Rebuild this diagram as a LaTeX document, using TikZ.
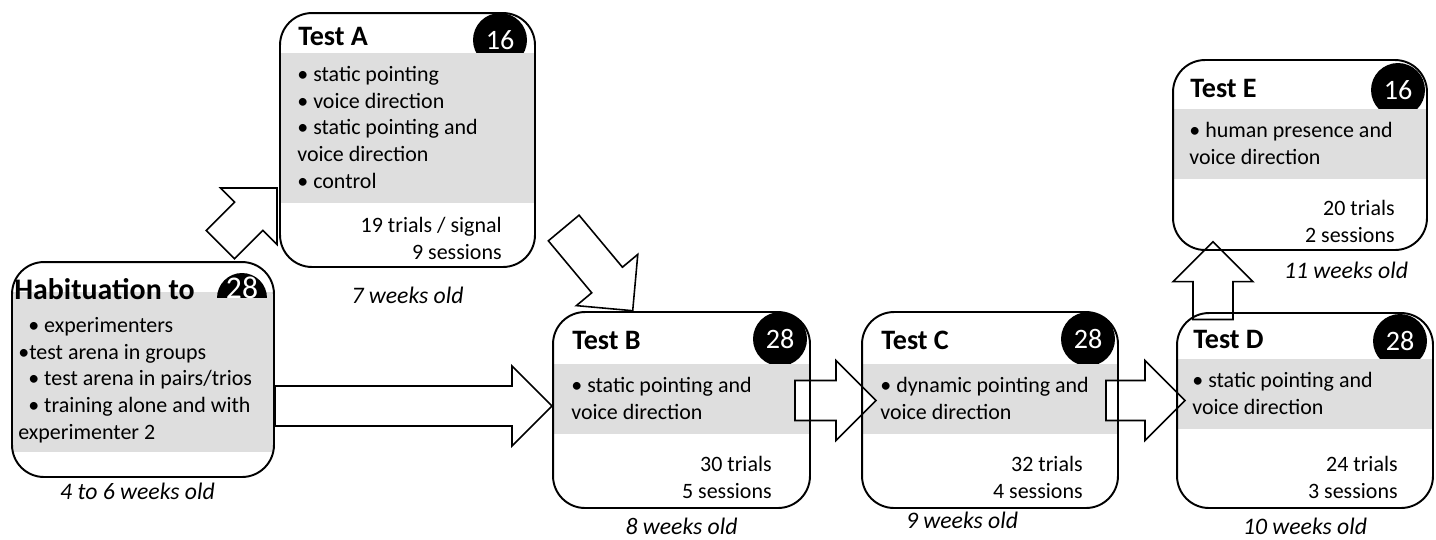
\documentclass[tikz,border=0pt]{standalone}
\usepackage{fontspec}
\setmainfont{Carlito}
\usetikzlibrary{calc}

\definecolor{bandgray}{RGB}{222,222,222}

% block arrow from #1 (tail) to #2 (tip)
\newcommand{\blockarrow}[2]{%
  \path (#2) coordinate (ba-tip) ($(#2)!0.8cm!(#1)$) coordinate (ba-base);
  \draw[blockarrow] ($(#1)!0.4cm!90:(#2)$) -- ($(ba-base)!0.4cm!90:(ba-tip)$)
    -- ($(ba-base)!0.8cm!90:(ba-tip)$) -- (ba-tip)
    -- ($(ba-base)!0.8cm!-90:(ba-tip)$) -- ($(ba-base)!0.4cm!-90:(ba-tip)$)
    -- ($(#1)!0.4cm!-90:(#2)$) -- cycle;}

\begin{document}
\begin{tikzpicture}[x=0.02cm, y=-0.02cm,
    stage/.style={rectangle, inner sep=0pt, outer sep=0pt},
    frame/.style={draw=black, line width=1.1pt, rounded corners=0.64cm},
    band/.style={fill=bandgray},
    count/.style={circle, fill=black, text=white, minimum size=1.08cm, inner sep=0pt,
      font=\fontsize{16}{16}\selectfont},
    title/.style={anchor=base west, inner sep=0pt, font=\bfseries\fontsize{16}{19}\selectfont},
    items/.style={anchor=base west, inner sep=0pt, align=left,
      font=\fontsize{12.5}{15.1}\selectfont},
    tally/.style={anchor=base east, inner sep=0pt, align=right,
      font=\fontsize{12.5}{15.1}\selectfont},
    age/.style={anchor=base, inner sep=0pt, font=\itshape\fontsize{13.5}{16}\selectfont},
    blockarrow/.style={draw=black, fill=white, line width=0.9pt, line join=miter}]
  \useasboundingbox (0,0) rectangle (1436,539);

  % Habituation (text nodes sit on their last baseline)
  \node[stage, minimum width=5.24cm, minimum height=4.30cm] (hab) at (143,369.5) {};
  \begin{scope}
    \clip[rounded corners=0.64cm] (hab.north west) rectangle (hab.south east);
    \fill[band] (12,292) rectangle (274,452);
    \clip (12,262) rectangle (274,297);
    \node[count, minimum size=1cm] (hab-n) at (242,298) {};
  \end{scope}
  \node[inner sep=0pt, text=white, font=\fontsize{18}{18}\selectfont] (hab-num) at (242,288) {28};
  \node[title, font=\bfseries\fontsize{17}{19}\selectfont] (hab-title) at (14,299) {Habituation to};
  \node[items] (hab-items) at (18,439) {\hspace*{0.2cm}• experimenters\\•test arena in groups\\
    \hspace*{0.2cm}• test arena in pairs/trios\\\hspace*{0.2cm}• training alone and with\\experimenter 2};
  \node[age] (hab-age) at (137.5,499) {4 to 6 weeks old};

  % Test A
  \node[stage, minimum width=5.10cm, minimum height=5.08cm] (testA) at (407.5,140) {};
  \begin{scope}
    \clip[rounded corners=0.64cm] (testA.north west) rectangle (testA.south east);
    \node[count] (testA-n) at (500,40) {16};
    \fill[band] (280,53) rectangle (535,203);
  \end{scope}
  \node[title] (testA-title) at (298,45) {Test A};
  \node[items] (testA-items) at (297,188) {• static pointing\\• voice direction\\
    • static pointing and\\voice direction\\• control};
  \node[tally] (testA-tally) at (502,259) {19 trials / signal\\9 sessions};
  \node[age] (testA-age) at (407.5,303) {7 weeks old};

  % Test B
  \node[stage, minimum width=5.14cm, minimum height=3.92cm] (testB) at (681.5,410) {};
  \begin{scope}
    \clip[rounded corners=0.64cm] (testB.north west) rectangle (testB.south east);
    \node[count] (testB-n) at (780,339) {28};
    \fill[band] (553,364) rectangle (810,434);
  \end{scope}
  \node[title] (testB-title) at (572,349) {Test B};
  \node[items] (testB-items) at (571,419.5) {• static pointing and\\voice direction};
  \node[tally] (testB-tally) at (772,498) {30 trials\\5 sessions};
  \node[age] (testB-age) at (681.5,534) {8 weeks old};

  % Test C
  \node[stage, minimum width=5.12cm, minimum height=3.92cm] (testC) at (990,410) {};
  \begin{scope}
    \clip[rounded corners=0.64cm] (testC.north west) rectangle (testC.south east);
    \node[count] (testC-n) at (1088,339) {28};
    \fill[band] (862,364) rectangle (1118,434);
  \end{scope}
  \node[title] (testC-title) at (881,349) {Test C};
  \node[items] (testC-items) at (880,419.5) {• dynamic pointing and\\voice direction};
  \node[tally] (testC-tally) at (1083,498) {32 trials\\4 sessions};
  \node[age] (testC-age) at (962,528) {9 weeks old};

  % Test D
  \node[stage, minimum width=5.12cm, minimum height=3.90cm] (testD) at (1305,410.5) {};
  \begin{scope}
    \clip[rounded corners=0.64cm] (testD.north west) rectangle (testD.south east);
    \node[count] (testD-n) at (1400,341) {28};
    \fill[band] (1177,359) rectangle (1433,429);
  \end{scope}
  \node[title] (testD-title) at (1193,348) {Test D};
  \node[items] (testD-items) at (1192,414.5) {• static pointing and\\voice direction};
  \node[tally] (testD-tally) at (1398,498) {24 trials\\3 sessions};
  \node[age] (testD-age) at (1305,534) {10 weeks old};

  % Test E
  \node[stage, minimum width=5.08cm, minimum height=3.80cm] (testE) at (1300,155) {};
  \begin{scope}
    \clip[rounded corners=0.64cm] (testE.north west) rectangle (testE.south east);
    \node[count] (testE-n) at (1398,90) {16};
    \fill[band] (1173,109) rectangle (1427,179);
  \end{scope}
  \node[title] (testE-title) at (1190,97) {Test E};
  \node[items] (testE-items) at (1189,164.5) {• human presence and\\voice direction};
  \node[tally] (testE-tally) at (1395,242) {20 trials\\2 sessions};
  \node[age] (testE-age) at (1346,278) {11 weeks old};

  % Arrows
  \coordinate (hab-out) at (275,406);
  \coordinate (testB-in) at (552,406);
  \coordinate (hab-up) at (220.4,244.6);
  \coordinate (testA-in) at (277,188);
  \coordinate (testA-out) at (563.7,228);
  \coordinate (testB-top) at (632.7,310.7);
  \coordinate (testB-out) at (795,400.5);
  \coordinate (testC-in) at (876,400.5);
  \coordinate (testC-out) at (1106,400.5);
  \coordinate (testD-in) at (1185,400.5);
  \coordinate (testD-out) at (1213,319.5);
  \coordinate (testE-in) at (1213,241.7);

  \blockarrow{hab-out}{testB-in}
  \blockarrow{hab-up}{testA-in}
  \blockarrow{testA-out}{testB-top}
  \blockarrow{testB-out}{testC-in}
  \blockarrow{testC-out}{testD-in}
  \blockarrow{testD-out}{testE-in}

  % Frames on top
  \foreach \n in {hab,testA,testB,testC,testD,testE}
    \draw[frame] (\n.north west) rectangle (\n.south east);
\end{tikzpicture}
\end{document}
